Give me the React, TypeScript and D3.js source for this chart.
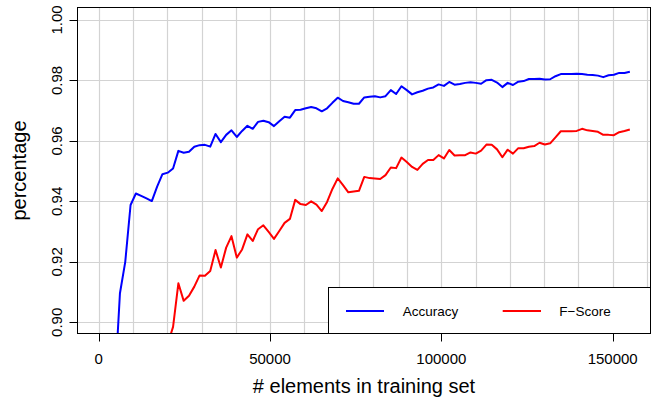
import React from "react";
import * as d3 from "d3";

const trainingSizes = [
  4650, 6200, 7750, 9300, 10850, 12400, 13950, 15500, 17050, 18600,
  20150, 21700, 23250, 24800, 26350, 27900, 29450, 31000, 32550, 34100,
  35650, 37200, 38750, 40300, 41850, 43400, 44950, 46500, 48050, 49600,
  51150, 52700, 54250, 55800, 57350, 58900, 60450, 62000, 63550, 65100,
  66650, 68200, 69750, 71300, 72850, 74400, 75950, 77500, 79050, 80600,
  82150, 83700, 85250, 86800, 88350, 89900, 91450, 93000, 94550, 96100,
  97650, 99200, 100750, 102300, 103850, 105400, 106950, 108500, 110050, 111600,
  113150, 114700, 116250, 117800, 119350, 120900, 122450, 124000, 125550, 127100,
  128650, 130200, 131750, 133300, 134850, 136400, 137950, 139500, 141050, 142600,
  144150, 145700, 147250, 148800, 150350, 151900, 153450, 155000,
];

const accuracy = [
  0.878, 0.9096, 0.92, 0.9388, 0.9426, 0.9418, 0.941, 0.9401, 0.9449, 0.949,
  0.9495, 0.9509, 0.9567, 0.9561, 0.9564, 0.9581, 0.9586, 0.9587, 0.9581, 0.9623,
  0.9596, 0.962, 0.9635, 0.9613, 0.9633, 0.965, 0.964, 0.9663, 0.9667, 0.9662,
  0.9649, 0.9665, 0.968, 0.9677, 0.9702, 0.9703, 0.9708, 0.9712, 0.9708, 0.9698,
  0.9708, 0.9726, 0.9743, 0.9732, 0.9728, 0.9723, 0.9723, 0.9744, 0.9746, 0.9748,
  0.9744, 0.9748, 0.9768, 0.9755, 0.9781, 0.9768, 0.9754, 0.9761, 0.9766, 0.9773,
  0.9777, 0.9787, 0.9782, 0.9795, 0.9786, 0.9788, 0.9792, 0.9794, 0.9792, 0.9789,
  0.9801, 0.9802, 0.9793, 0.9778, 0.9792, 0.9785, 0.9796, 0.9798, 0.9805, 0.9805,
  0.9806, 0.9803, 0.9804, 0.9814, 0.9821, 0.9821, 0.9821, 0.9822, 0.9821, 0.9819,
  0.9818, 0.9816, 0.9811, 0.9817, 0.9819, 0.9825, 0.9825, 0.9829,
];

const fScore: (number | null)[] = [
  null, null, null, null, null, null, null, null, null, null,
  0.8928, 0.8985, 0.9129, 0.9071, 0.9088, 0.9118, 0.9155, 0.9154, 0.917, 0.9239,
  0.9181, 0.9247, 0.9285, 0.9214, 0.9241, 0.9291, 0.9269, 0.9308, 0.9321, 0.9299,
  0.9276, 0.9302, 0.9329, 0.9342, 0.9405, 0.9391, 0.9388, 0.94, 0.9389, 0.9368,
  0.9398, 0.9441, 0.9476, 0.9454, 0.943, 0.9433, 0.9435, 0.9481, 0.9477, 0.9476,
  0.9474, 0.9487, 0.9512, 0.951, 0.9545, 0.953, 0.9514, 0.9504, 0.9524, 0.9537,
  0.9537, 0.9553, 0.9542, 0.957, 0.9552, 0.9553, 0.9553, 0.9562, 0.9558, 0.9568,
  0.9588, 0.9587, 0.9572, 0.9546, 0.9571, 0.9558, 0.9576, 0.9576, 0.9581, 0.9583,
  0.9594, 0.9588, 0.9592, 0.9612, 0.9632, 0.9632, 0.9632, 0.9633, 0.964, 0.9635,
  0.9633, 0.963, 0.962, 0.962, 0.9619, 0.9629, 0.9633, 0.9638,
];

const xTicks = [0, 50000, 100000, 150000];
const xTickLabels = ["0", "50000", "100000", "150000"];
const yTicks = [0.9, 0.92, 0.94, 0.96, 0.98, 1.0];
const yTickLabels = ["0.90", "0.92", "0.94", "0.96", "0.98", "1.00"];
const xGrid = [0, 10000, 20000, 30000, 40000, 50000, 60000, 70000, 80000, 90000, 100000, 110000, 120000, 130000, 140000, 150000, 160000];
const seriesNames = ["Accuracy", "F\u2212Score"];
const seriesColors = ["#0000ff", "#ff0000"];

const W = 651;
const H = 400;
const box = { left: 77.5, right: 650.5, top: 7.5, bottom: 333.5 };
const FONT = "'Liberation Sans', Arial, Helvetica, sans-serif";

export default function App() {
  const x = d3.scaleLinear().domain([0, 150000]).range([98.7, 612.7]);
  const y = d3.scaleLinear().domain([0.9, 1.0]).range([322.3, 20]);

  const accPts = trainingSizes.map((s, i) => [s, accuracy[i]] as [number, number | null]);
  const fPts = trainingSizes.map((s, i) => [s, fScore[i]] as [number, number | null]);

  const line = d3
    .line<[number, number | null]>()
    .defined((d) => d[1] != null)
    .x((d) => x(d[0]))
    .y((d) => y(d[1] as number));

  const legendLeft = 328.5;
  const legendTop = 287.5;
  const legendY = 311;

  return (
    <svg
      width={W}
      height={H}
      style={{ position: "absolute", left: 0, top: 0, background: "#fff" }}
      fontFamily={FONT}
    >
      <defs>
        <clipPath id="plotClip">
          <rect x={box.left} y={box.top} width={box.right - box.left} height={box.bottom - box.top} />
        </clipPath>
      </defs>
      <rect x={0} y={0} width={W} height={H} fill="#fff" />
      <g clipPath="url(#plotClip)">
        {xGrid.map((g) => (
          <line key={"gx" + g} x1={Math.round(x(g)) + 0.5} x2={Math.round(x(g)) + 0.5} y1={box.top} y2={box.bottom} stroke="#d3d3d3" strokeWidth={1.2} />
        ))}
        {yTicks.map((g) => (
          <line key={"gy" + g} x1={box.left} x2={box.right} y1={Math.round(y(g)) + 0.5} y2={Math.round(y(g)) + 0.5} stroke="#d3d3d3" strokeWidth={1.2} />
        ))}
        <path d={line(accPts) || ""} fill="none" stroke={seriesColors[0]} strokeWidth={2} strokeLinejoin="round" />
        <path d={line(fPts) || ""} fill="none" stroke={seriesColors[1]} strokeWidth={2} strokeLinejoin="round" />
      </g>
      <rect x={box.left} y={box.top} width={box.right - box.left} height={box.bottom - box.top} fill="none" stroke="#000" strokeWidth={1} />
      {/* x axis */}
      {xTicks.map((t, i) => (
        <g key={"xt" + t}>
          <line x1={Math.round(x(t)) + 0.5} x2={Math.round(x(t)) + 0.5} y1={box.bottom} y2={box.bottom + 8} stroke="#000" />
          <text x={x(t)} y={363.5} textAnchor="middle" fontSize={15} fill="#000">
            {xTickLabels[i]}
          </text>
        </g>
      ))}
      {/* y axis */}
      {yTicks.map((t, i) => (
        <g key={"yt" + t}>
          <line x1={box.left - 8} x2={box.left} y1={Math.round(y(t)) + 0.5} y2={Math.round(y(t)) + 0.5} stroke="#000" />
          <text transform={`translate(61.5,${y(t)}) rotate(-90)`} textAnchor="middle" fontSize={15} fill="#000">
            {yTickLabels[i]}
          </text>
        </g>
      ))}
      <text x={(box.left + box.right) / 2} y={393} textAnchor="middle" fontSize={20} fill="#000">
        # elements in training set
      </text>
      <text transform={`translate(26,${(box.top + box.bottom) / 2}) rotate(-90)`} textAnchor="middle" fontSize={20} fill="#000">
        percentage
      </text>
      {/* legend */}
      <rect x={legendLeft} y={legendTop} width={box.right - legendLeft} height={box.bottom - legendTop} fill="#fff" stroke="#000" strokeWidth={1} />
      <line x1={346} x2={384} y1={legendY} y2={legendY} stroke={seriesColors[0]} strokeWidth={2} />
      <text x={402.7} y={316} fontSize={13.5} fill="#000">{seriesNames[0]}</text>
      <line x1={502.7} x2={541} y1={legendY} y2={legendY} stroke={seriesColors[1]} strokeWidth={2} />
      <text x={559.3} y={316} fontSize={13.5} fill="#000">{seriesNames[1]}</text>
    </svg>
  );
}
